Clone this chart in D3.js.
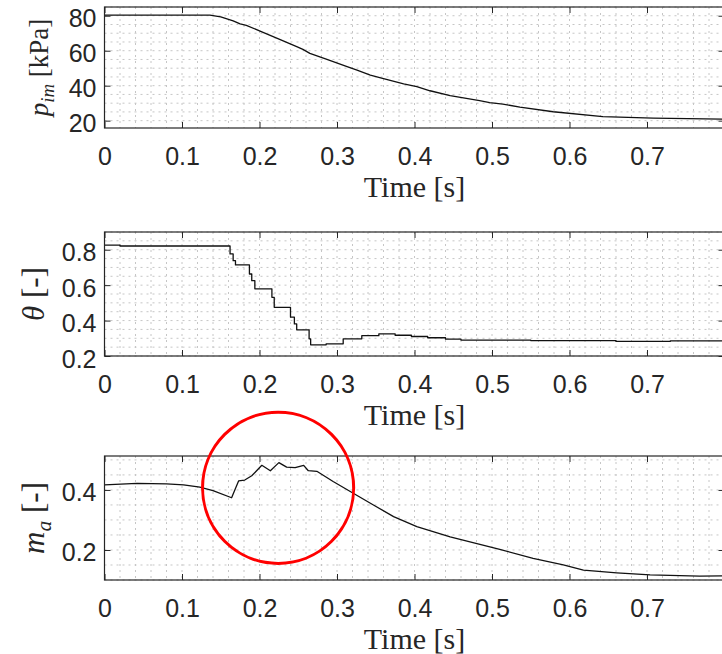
<!DOCTYPE html>
<html>
<head>
<meta charset="utf-8">
<script src="https://cdn.jsdelivr.net/npm/d3@7"></script>
<style>
  body { margin: 0; background: #fff; }
  svg { display: block; }
</style>
</head>
<body>
<svg id="chart" width="722" height="654"></svg>
<script>
// time ticks shared by all three panels
const timeTicks = [0, 0.1, 0.2, 0.3, 0.4, 0.5, 0.6, 0.7];
const timeTickLabels = ["0", "0.1", "0.2", "0.3", "0.4", "0.5", "0.6", "0.7"];

// intake manifold pressure [kPa]
const pimTime = [0, 0.136, 0.15, 0.166, 0.175, 0.183, 0.2, 0.226, 0.248, 0.256, 0.265, 0.287, 0.313, 0.325, 0.343, 0.36, 0.386, 0.403, 0.42, 0.446, 0.484, 0.497, 0.514, 0.536, 0.579, 0.643, 0.708, 0.8];
const pimValues = [80.4, 80.4, 79.4, 77.1, 75.3, 74.5, 71.4, 66.5, 62.3, 60.8, 58.5, 55.1, 50.9, 49, 46.1, 44, 41, 39.4, 37.1, 34.3, 31.4, 30.3, 29.5, 27.7, 25.1, 22.3, 21.4, 20.8];
const pimTicks = [20, 40, 60, 80];
const pimTickLabels = ["20", "40", "60", "80"];

// throttle angle [-], stepwise
const thetaTime = [0, 0.02, 0.162, 0.166, 0.169, 0.187, 0.19, 0.194, 0.216, 0.219, 0.24, 0.245, 0.248, 0.264, 0.266, 0.286, 0.308, 0.332, 0.354, 0.375, 0.396, 0.417, 0.44, 0.46, 0.55, 0.66, 0.73, 0.8];
const thetaValues = [0.826, 0.821, 0.776, 0.738, 0.714, 0.663, 0.625, 0.579, 0.531, 0.475, 0.419, 0.381, 0.348, 0.297, 0.263, 0.269, 0.297, 0.315, 0.325, 0.317, 0.31, 0.303, 0.295, 0.29, 0.287, 0.282, 0.285, 0.285];
const thetaTicks = [0.2, 0.4, 0.6, 0.8];
const thetaTickLabels = ["0.2", "0.4", "0.6", "0.8"];

// m_a [-]
const maTime = [0, 0.042, 0.08, 0.102, 0.123, 0.14, 0.164, 0.173, 0.181, 0.19, 0.203, 0.214, 0.225, 0.235, 0.246, 0.257, 0.263, 0.274, 0.295, 0.321, 0.347, 0.373, 0.403, 0.446, 0.51, 0.553, 0.592, 0.618, 0.661, 0.704, 0.768, 0.8];
const maValues = [0.417, 0.422, 0.42, 0.417, 0.409, 0.398, 0.374, 0.43, 0.433, 0.447, 0.482, 0.464, 0.491, 0.476, 0.474, 0.482, 0.464, 0.462, 0.428, 0.389, 0.35, 0.311, 0.278, 0.244, 0.202, 0.172, 0.15, 0.133, 0.124, 0.117, 0.113, 0.114];
const maTicks = [0.2, 0.4];
const maTickLabels = ["0.2", "0.4"];

// highlight circle on the m_a panel (data units)
const highlight = { t: 0.224, v: 0.407, rt: 0.0975 };

const AXIS_COLOR = "#262626";
const svg = d3.select("#chart");
const x = d3.scaleLinear().domain([0, 0.8]).range([104.5, 724.5]);

const panels = [
  { top: 7, bottom: 128, domain: [15.8, 85], minor: 5, time: pimTime, values: pimValues,
    ticks: pimTicks, tickLabels: pimTickLabels, step: false,
    label: [["p", "it"], ["im", "sub"], [" [kPa]", ""]], labelSize: 27, labelX: 48 },
  { top: 232, bottom: 356, domain: [0.2, 0.9], minor: 0.05, time: thetaTime, values: thetaValues,
    ticks: thetaTicks, tickLabels: thetaTickLabels, step: true,
    label: [["\u03b8", "it"], [" [-]", ""]], labelSize: 31, labelX: 44 },
  { top: 456, bottom: 580, domain: [0.1, 0.513], minor: 0.05, time: maTime, values: maValues,
    ticks: maTicks, tickLabels: maTickLabels, step: false,
    label: [["m", "it"], ["a", "sub"], [" [-]", ""]], labelSize: 31, labelX: 44 },
];

function drawPanel(p) {
  const y = d3.scaleLinear().domain(p.domain).range([p.bottom, p.top]);
  const g = svg.append("g");

  // minor grid (dotted)
  const grid = g.append("g").attr("stroke", "#c6c6c6").attr("stroke-width", 1)
    .attr("stroke-dasharray", "2,4");
  grid.selectAll("line.v").data(d3.range(0.02, 0.8, 0.02)).join("line")
    .attr("x1", (d) => x(d)).attr("x2", (d) => x(d))
    .attr("y1", p.top).attr("y2", p.bottom);
  const lo = Math.ceil(p.domain[0] / p.minor - 1e-6);
  const hi = Math.floor(p.domain[1] / p.minor + 1e-6);
  grid.selectAll("line.h").data(d3.range(lo, hi + 1).map((k) => k * p.minor)).join("line")
    .attr("x1", x(0)).attr("x2", x(0.8))
    .attr("y1", (d) => y(d)).attr("y2", (d) => y(d));

  // data line
  const line = d3.line()
    .x((d) => x(d[0]))
    .y((d) => y(d[1]))
    .curve(p.step ? d3.curveStepAfter : d3.curveLinear);
  g.append("path")
    .datum(p.time.map((t, i) => [t, p.values[i]]))
    .attr("fill", "none").attr("stroke", "#111").attr("stroke-width", 1.3)
    .attr("stroke-linejoin", "round")
    .attr("d", line);

  // axes, ticks pointing inward
  const bottomAxis = d3.axisBottom(x).tickValues(timeTicks)
    .tickFormat((d, i) => timeTickLabels[i]).tickSize(-6).tickSizeOuter(0).tickPadding(19.5);
  const topAxis = d3.axisTop(x).tickValues(timeTicks).tickFormat("").tickSize(-6).tickSizeOuter(0);
  const leftAxis = d3.axisLeft(y).tickValues(p.ticks)
    .tickFormat((d, i) => p.tickLabels[i]).tickSize(-6).tickSizeOuter(0).tickPadding(8);
  const rightAxis = d3.axisRight(y).tickValues(p.ticks).tickFormat("").tickSize(-6).tickSizeOuter(0);

  const styleAxis = (sel) => {
    sel.select(".domain").remove();
    sel.selectAll("line").attr("stroke", AXIS_COLOR);
    sel.selectAll("text").attr("fill", AXIS_COLOR)
      .style("font-family", "'Liberation Sans', Arial, Helvetica, sans-serif")
      .style("font-size", "25px");
  };
  g.append("g").attr("transform", `translate(0,${p.bottom})`).call(bottomAxis).call(styleAxis);
  g.append("g").attr("transform", `translate(0,${p.top})`).call(topAxis).call(styleAxis);
  g.append("g").attr("transform", `translate(${x(0)},0)`).call(leftAxis).call(styleAxis)
    .selectAll("text").attr("dy", "0.44em");
  g.append("g").attr("transform", `translate(${x(0.8)},0)`).call(rightAxis).call(styleAxis);

  // box
  g.append("rect")
    .attr("x", x(0)).attr("y", p.top)
    .attr("width", x(0.8) - x(0)).attr("height", p.bottom - p.top)
    .attr("fill", "none").attr("stroke", AXIS_COLOR).attr("stroke-width", 1.2);

  // x label
  g.append("text")
    .attr("x", (x(0) + x(0.8)) / 2).attr("y", p.bottom + 69)
    .attr("text-anchor", "middle").attr("fill", AXIS_COLOR)
    .style("font-family", "'Liberation Serif', 'Times New Roman', serif")
    .style("font-size", "30px")
    .text("Time [s]");

  // y label, rotated
  const yl = g.append("text")
    .attr("transform", `translate(${p.labelX},${(p.top + p.bottom) / 2}) rotate(-90)`)
    .attr("text-anchor", "middle").attr("fill", AXIS_COLOR)
    .style("font-family", "'Liberation Serif', 'Times New Roman', serif")
    .style("font-size", p.labelSize + "px");
  let shifted = false;
  for (const [txt, kind] of p.label) {
    const ts = yl.append("tspan").text(txt);
    if (kind === "it") ts.style("font-style", "italic");
    if (kind === "sub") {
      ts.style("font-style", "italic").style("font-size", "70%").attr("dy", "0.3em");
      shifted = true;
    } else if (shifted) {
      ts.attr("dy", "-0.21em");
      shifted = false;
    }
  }
  return y;
}

const yScales = panels.map(drawPanel);

// red highlight circle on bottom panel
const yMa = yScales[2];
svg.append("circle")
  .attr("cx", x(highlight.t)).attr("cy", yMa(highlight.v))
  .attr("r", x(highlight.rt) - x(0))
  .attr("fill", "none").attr("stroke", "#ff0000").attr("stroke-width", 3);
</script>
</body>
</html>
